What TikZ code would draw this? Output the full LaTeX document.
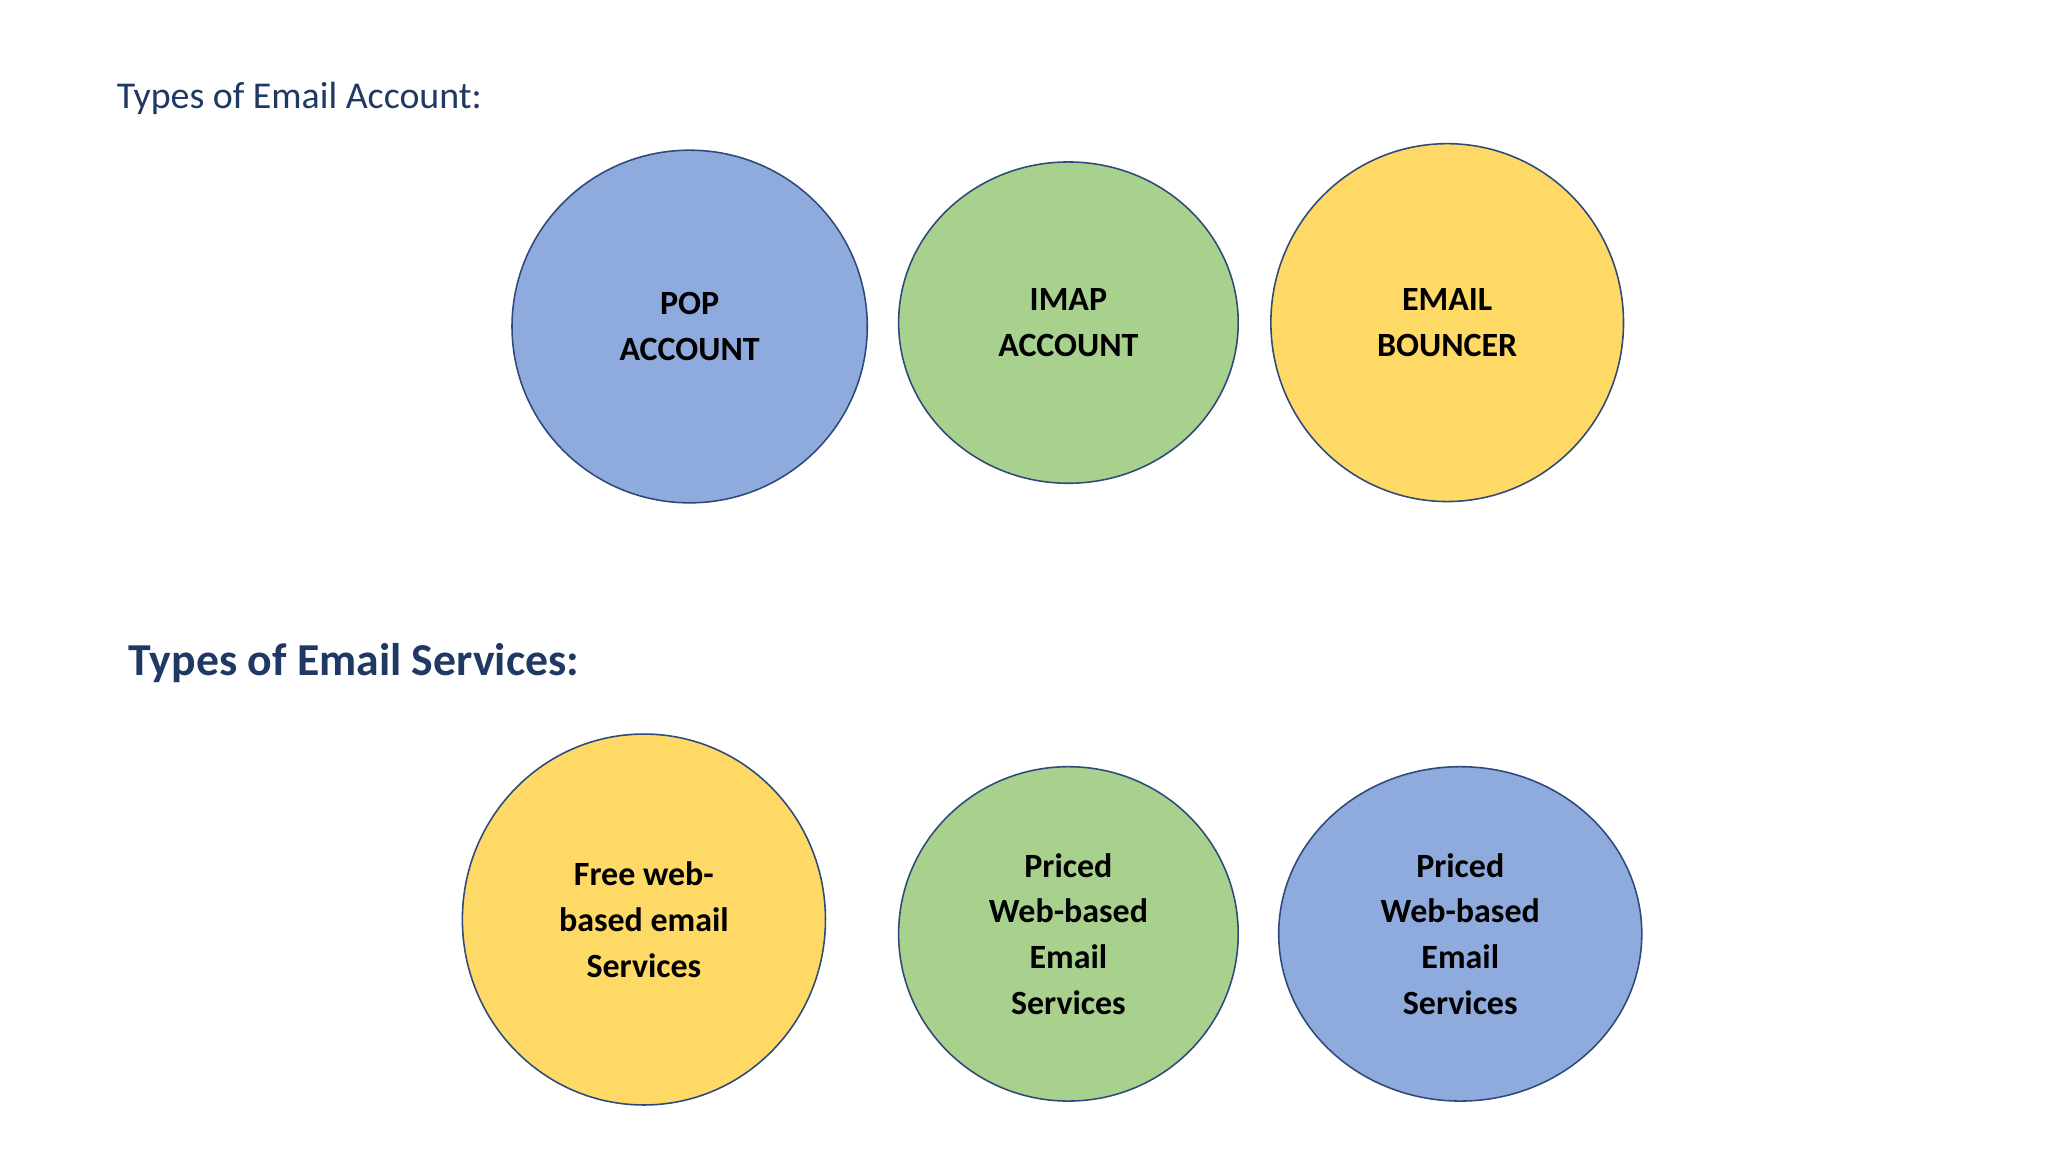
\documentclass[tikz,border=0pt]{standalone}
\usepackage{fontspec}
\setmainfont{Carlito}
\usetikzlibrary{shapes.geometric}
\definecolor{cblue}{HTML}{8FAADC}
\definecolor{cgreen}{HTML}{A9D18E}
\definecolor{cyellow}{HTML}{FFD966}
\definecolor{edge}{HTML}{2F4A7A}
\definecolor{title}{HTML}{1F3864}
\tikzset{
  bub/.style={ellipse, draw=edge, line width=1.2pt, inner sep=0pt, align=center,
    font=\fontsize{26}{35}\selectfont\bfseries, text=black},
}
\begin{document}
\begin{tikzpicture}[x=1pt,y=-1pt]
\useasboundingbox (0,0) rectangle (1568,882);
\fill[white] (0,0) rectangle (1568,882);
\node[anchor=west, text=title, font=\fontsize{29}{34}\selectfont] (t1) at (86,75) {Types of Email Account:};
\node[anchor=west, text=title, font=\fontsize{35}{40}\selectfont\bfseries] (t2) at (95,508) {Types of Email Services:};
\node[bub, fill=cblue, minimum width=272pt, minimum height=270pt] (pop) at (528,250) {POP\\ACCOUNT};
\node[bub, fill=cgreen, minimum width=260pt, minimum height=246pt] (imap) at (818,247) {IMAP\\ACCOUNT};
\node[bub, fill=cyellow, minimum width=270pt, minimum height=274pt] (bnc) at (1108,247) {EMAIL\\BOUNCER};
\node[bub, fill=cyellow, minimum width=278pt, minimum height=284pt] (free) at (493,704) {Free web-\\based email\\Services};
\node[bub, fill=cgreen, minimum width=260pt, minimum height=256pt] (pg) at (818,715) {Priced\\Web-based\\Email\\Services};
\node[bub, fill=cblue, minimum width=278pt, minimum height=256pt] (pb) at (1118,715) {Priced\\Web-based\\Email\\Services};
\end{tikzpicture}
\end{document}
